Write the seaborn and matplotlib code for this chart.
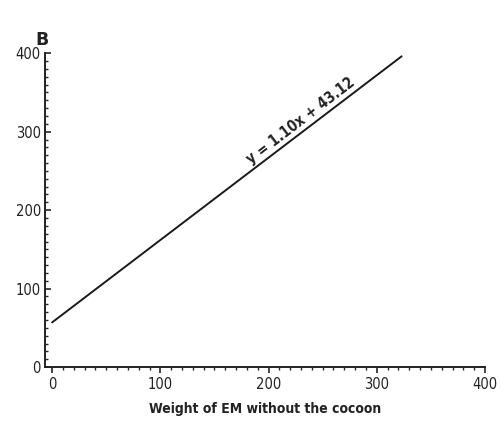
import matplotlib
matplotlib.use("Agg")
import matplotlib.pyplot as plt
import seaborn as sns
import pandas as pd
from matplotlib.ticker import MultipleLocator

# Data
line_x = [0, 323]
line_y = [57, 396]
x_ticks = [0, 100, 200, 300, 400]
y_ticks = [0, 100, 200, 300, 400]
equation = "y = 1.10x + 43.12"
x_label = "Weight of EM without the cocoon"
panel = "B"

sns.set_style("ticks")
plt.rcParams['font.family'] = ['DejaVu Sans']

fig = plt.figure(figsize=(5.01, 4.22), dpi=100)
ax = fig.add_axes([0.090, 0.130, 0.878, 0.744])

df = pd.DataFrame({"x": line_x, "y": line_y})
sns.lineplot(data=df, x="x", y="y", ax=ax, color="#1a1a1a", linewidth=1.4)

ax.set_xlim(-6.5, 400)
ax.set_ylim(0, 400)
ax.set_xticks(x_ticks)
ax.set_yticks(y_ticks)
ax.xaxis.set_minor_locator(MultipleLocator(10))
ax.yaxis.set_minor_locator(MultipleLocator(10))
ax.tick_params(axis="x", which="major", direction="out", length=4, width=1.2, labelsize=10.5, pad=3)
ax.tick_params(axis="x", which="minor", direction="out", length=2.5, width=1)
ax.tick_params(axis="y", which="major", direction="in", length=4, width=1.2, labelsize=10.5, pad=3)
ax.tick_params(axis="y", which="minor", direction="in", length=2.5, width=1)
for lab in ax.get_xticklabels() + ax.get_yticklabels():
    lab.set_fontstretch("condensed")
    lab.set_color("#222222")

sns.despine(ax=ax)
for s in ["left", "bottom"]:
    ax.spines[s].set_linewidth(1.4)
    ax.spines[s].set_color("#222222")

ax.set_xlabel(x_label, fontsize=10, fontweight="bold", fontstretch="condensed", labelpad=7, color="#222222")
ax.set_ylabel("")

ax.text(230, 314, equation, rotation=37.5, ha="center", va="center",
        fontsize=10.5, fontweight="bold", fontstretch="condensed", color="#222222",
        rotation_mode="anchor")

fig.text(0.084, 0.905, panel, fontsize=12.5, fontweight="heavy", ha="center", va="center", color="#222222")

fig.savefig("out.png", dpi=100, facecolor="white")
